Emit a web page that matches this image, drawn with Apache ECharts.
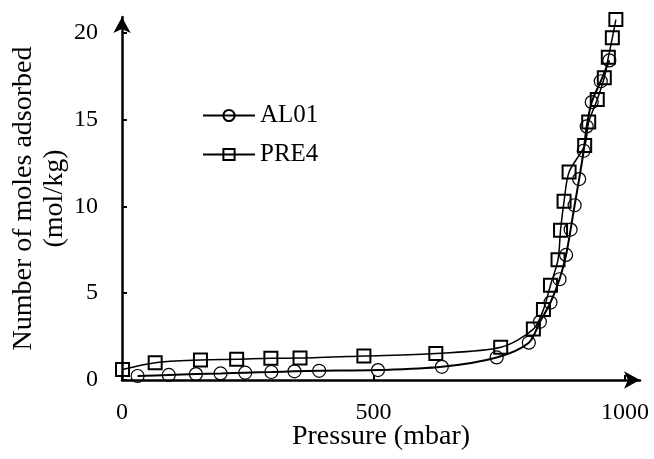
<!DOCTYPE html>
<html>
<head>
<meta charset="utf-8">
<script src="https://cdn.jsdelivr.net/npm/echarts@6/dist/echarts.min.js"></script>
<style>
html, body { margin: 0; padding: 0; background: #fff; }
#chart { width: 654px; height: 459px; }
</style>
</head>
<body>
<div id="chart"></div>
<script>
// pressure (mbar), moles adsorbed (mol/kg)
const al01Pressure = [31, 93, 147, 196, 245, 297, 343, 392, 509, 636, 745, 809, 831, 852, 870, 883, 892, 900, 909, 918, 924, 934, 952, 969];
const al01Amount = [0.23, 0.29, 0.34, 0.38, 0.42, 0.46, 0.5, 0.53, 0.57, 0.76, 1.3, 2.15, 3.35, 4.46, 5.8, 7.2, 8.66, 10.06, 11.57, 13.2, 14.6, 16.0, 17.2, 18.4];
const pre4Pressure = [1, 66, 156, 228, 296, 354, 481, 624, 753, 818, 838, 852, 867, 872, 879, 889, 920, 928, 945, 959, 967, 975, 982];
const pre4Amount = [0.6, 1.0, 1.15, 1.19, 1.25, 1.26, 1.38, 1.53, 1.88, 2.93, 4.06, 5.46, 6.93, 8.62, 10.29, 11.97, 13.5, 14.85, 16.15, 17.4, 18.58, 19.7, 20.75];

const FONT = 'Liberation Serif';
const zip = (xs, ys) => xs.map((x, i) => [x, ys[i]]);

const chart = echarts.init(document.getElementById('chart'));
const option = {
    animation: false,
    textStyle: { fontFamily: FONT, color: '#000' },
    grid: { left: 122, right: 14, top: 17, bottom: 79, outerBoundsMode: 'none' },
    legend: {
        orient: 'vertical',
        left: 197,
        top: 98,
        itemWidth: 52,
        itemHeight: 14,
        itemGap: 14,
        textStyle: { fontFamily: FONT, fontSize: 25, color: '#000' },
        data: ['AL01', 'PRE4'],
    },
    xAxis: {
        type: 'value',
        min: 0,
        max: 1030,
        interval: 500,
        name: 'Pressure (mbar)',
        nameLocation: 'middle',
        nameGap: 43,
        nameMoveOverlap: false,
        nameTextStyle: { fontFamily: FONT, fontSize: 28, color: '#000' },
        splitLine: { show: false },
        axisLine: {
            lineStyle: { color: '#000', width: 2.5 },
            symbol: ['none', 'arrow'],
            symbolSize: [13, 16],
        },
        axisTick: { inside: true, length: 5, lineStyle: { color: '#000', width: 2 } },
        axisLabel: {
            fontFamily: FONT, fontSize: 24, color: '#000', margin: 21, showMaxLabel: false,
            formatter: (v) => String(v),
        },
    },
    yAxis: {
        type: 'value',
        min: 0,
        max: 20.9,
        interval: 5,
        name: 'Number of moles adsorbed\n(mol/kg)',
        nameLocation: 'middle',
        nameGap: 52,
        nameMoveOverlap: false,
        nameRotate: 90,
        nameTextStyle: { fontFamily: FONT, fontSize: 28, color: '#000', lineHeight: 31 },
        splitLine: { show: false },
        axisLine: {
            lineStyle: { color: '#000', width: 2.5 },
            symbol: ['none', 'arrow'],
            symbolSize: [13, 16],
        },
        axisTick: { inside: true, length: 5, lineStyle: { color: '#000', width: 2 } },
        axisLabel: { fontFamily: FONT, fontSize: 24, color: '#000', margin: 24, showMaxLabel: false },
    },
    series: [
        {
            name: 'AL01',
            type: 'line',
            smooth: 0.3,
            data: zip(al01Pressure, al01Amount),
            symbol: 'circle',
            symbolSize: 13,
            lineStyle: { color: '#000', width: 2 },
            itemStyle: { color: 'rgba(0,0,0,0)', borderColor: '#000', borderWidth: 1.2 },
        },
        {
            name: 'PRE4',
            type: 'line',
            smooth: 0.3,
            data: zip(pre4Pressure, pre4Amount),
            symbol: 'rect',
            symbolSize: 13,
            lineStyle: { color: '#000', width: 1.5 },
            itemStyle: { color: 'rgba(0,0,0,0)', borderColor: '#000', borderWidth: 2 },
        },
    ],
};
chart.setOption(option);
</script>
</body>
</html>
